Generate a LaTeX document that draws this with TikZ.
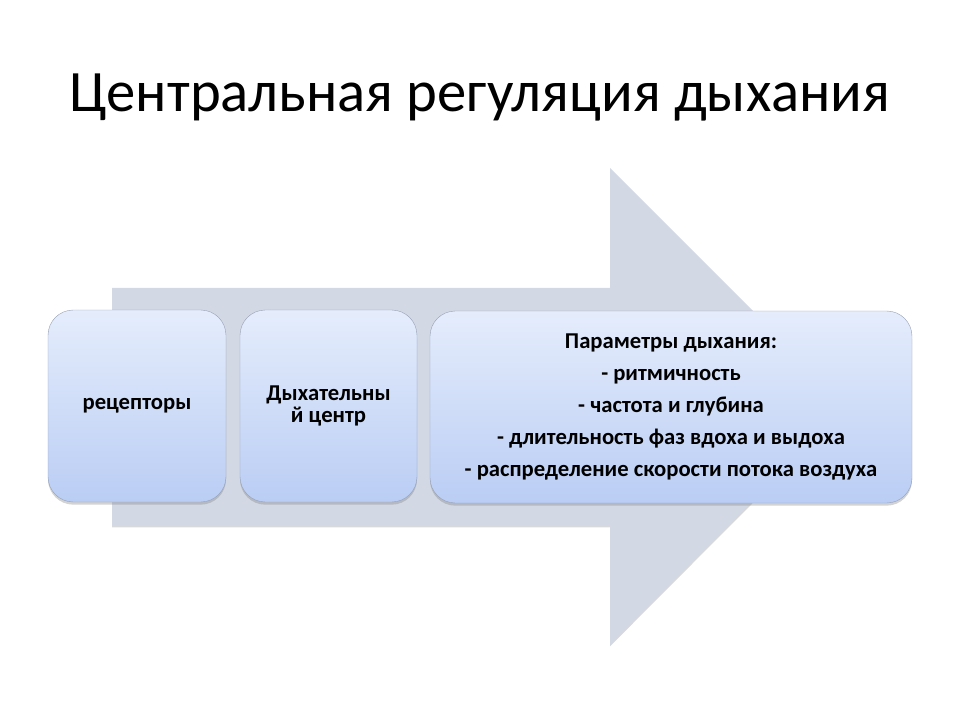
\documentclass[tikz,border=0pt]{standalone}
\usepackage{fontspec}
\setmainfont{Carlito}
\usetikzlibrary{shadows}
\definecolor{arrowfill}{RGB}{210,216,228}
\definecolor{boxtop}{RGB}{229,237,252}
\definecolor{boxbot}{RGB}{186,205,244}
\definecolor{boxline}{RGB}{150,160,180}

\begin{document}
\begin{tikzpicture}[x=0.75pt,y=-0.75pt,
  stage/.style={rectangle, rounded corners=19pt, top color=boxtop, bottom color=boxbot,
    draw=boxline, line width=0.3pt, minimum height=144pt, align=center,
    font=\fontsize{17}{16.5}\selectfont\bfseries,
    drop shadow={shadow xshift=0pt, shadow yshift=-2pt, opacity=0.35}}]
\useasboundingbox (0,0) rectangle (960,720);

\node (title) at (480,97) {\fontsize{44}{52}\selectfont Центральная регуляция дыхания};

% big arrow behind the boxes
\fill [arrowfill, drop shadow={shadow xshift=0pt, shadow yshift=-1pt, opacity=0.3}]
  (112,288) -- (610,288) -- (610,168) -- (848,406) -- (610,645) -- (610,526) -- (112,526) -- cycle;

\node [stage, minimum width=133.5pt] (receptors) at (137,406) {рецепторы};
\node [stage, minimum width=132.75pt] (center) at (328.5,406) {Дыхательны\\й центр};
\node [stage, minimum width=361.5pt, font=\fontsize{17}{24}\selectfont\bfseries] (params) at (671,407)
  {Параметры дыхания:\\- ритмичность\\- частота и глубина\\- длительность фаз вдоха и выдоха\\- распределение скорости потока воздуха};

\end{tikzpicture}
\end{document}
